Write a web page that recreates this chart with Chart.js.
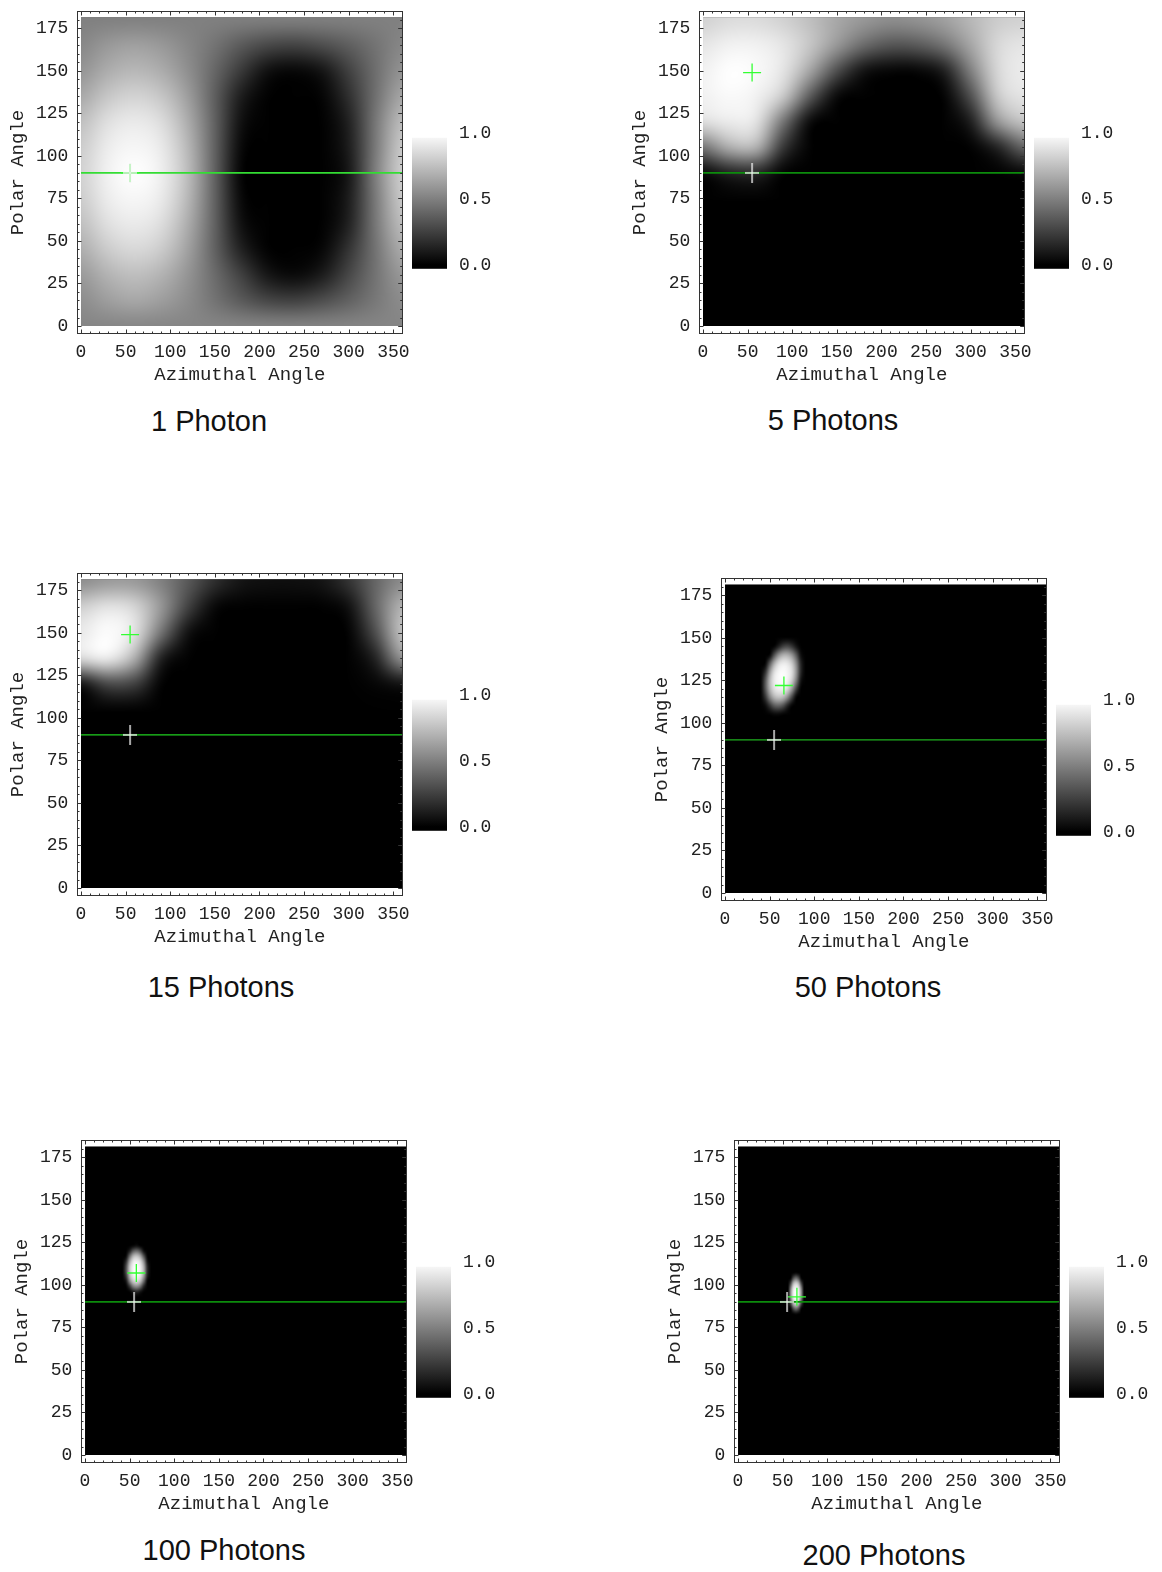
<!DOCTYPE html>
<html>
<head>
<meta charset="utf-8">
<script src="https://cdn.jsdelivr.net/npm/chart.js@4.4.1/dist/chart.umd.min.js"></script>
<style>
  body { margin: 0; background: #fff; width: 1162px; height: 1572px; position: relative; overflow: hidden; }
  canvas { position: absolute; }
  .title { position: absolute; font-family: 'Liberation Sans', Arial, sans-serif; font-size: 29px; color: #111;
           transform: translate(-50%, -50%); white-space: nowrap; }
</style>
</head>
<body>
<script>
// ---- data ----
const panelTitles = ['1 Photon', '5 Photons', '15 Photons', '50 Photons', '100 Photons', '200 Photons'];
const azTickLabels = [0, 50, 100, 150, 200, 250, 300, 350];
const polarTickLabels = [0, 25, 50, 75, 100, 125, 150, 175];
const barTickLabels = [0, 0.5, 1];

// true direction (white cross) and estimate (green cross)
const trueAz = 55;
const truePolar = 90;
const estAz = [55, 55, 55, 66, 57.5, 66];
const estPolar = [90, 149, 149, 122, 107, 93];
const horizonPolar = 90;

// coarse grids, rows go from polar 0 upward
const coarseAz = [0, 30, 60, 90, 120, 150, 180, 210, 240, 270, 300, 330, 360];
const coarsePolar = [0, 15, 30, 45, 60, 75, 90, 105, 120, 135, 150, 165, 180];

const onePhoton = [
  [0.52, 0.52, 0.52, 0.52, 0.52, 0.52, 0.52, 0.52, 0.52, 0.52, 0.52, 0.52, 0.52],
  [0.55, 0.62, 0.66, 0.62, 0.55, 0.45, 0.35, 0.27, 0.25, 0.30, 0.38, 0.47, 0.55],
  [0.60, 0.70, 0.75, 0.70, 0.58, 0.42, 0.25, 0.08, 0.03, 0.10, 0.28, 0.45, 0.60],
  [0.68, 0.80, 0.85, 0.80, 0.63, 0.38, 0.12, 0.00, 0.00, 0.02, 0.20, 0.45, 0.68],
  [0.75, 0.88, 0.92, 0.87, 0.68, 0.38, 0.05, 0.00, 0.00, 0.00, 0.12, 0.47, 0.75],
  [0.80, 0.93, 0.97, 0.92, 0.72, 0.38, 0.02, 0.00, 0.00, 0.00, 0.10, 0.48, 0.80],
  [0.82, 0.95, 1.00, 0.94, 0.74, 0.38, 0.00, 0.00, 0.00, 0.00, 0.08, 0.50, 0.82],
  [0.80, 0.93, 0.97, 0.92, 0.72, 0.38, 0.02, 0.00, 0.00, 0.00, 0.10, 0.48, 0.80],
  [0.75, 0.88, 0.92, 0.87, 0.68, 0.38, 0.05, 0.00, 0.00, 0.00, 0.12, 0.47, 0.75],
  [0.66, 0.78, 0.83, 0.78, 0.62, 0.37, 0.10, 0.00, 0.00, 0.01, 0.18, 0.44, 0.66],
  [0.58, 0.68, 0.72, 0.68, 0.56, 0.40, 0.22, 0.05, 0.02, 0.07, 0.25, 0.43, 0.58],
  [0.53, 0.60, 0.63, 0.60, 0.53, 0.45, 0.35, 0.28, 0.26, 0.30, 0.37, 0.45, 0.53],
  [0.50, 0.50, 0.50, 0.50, 0.50, 0.50, 0.50, 0.50, 0.50, 0.50, 0.50, 0.50, 0.50]
];

const fivePhotons = [
  [0, 0, 0, 0, 0, 0, 0, 0, 0, 0, 0, 0, 0],
  [0, 0, 0, 0, 0, 0, 0, 0, 0, 0, 0, 0, 0],
  [0, 0, 0, 0, 0, 0, 0, 0, 0, 0, 0, 0, 0],
  [0, 0, 0, 0, 0, 0, 0, 0, 0, 0, 0, 0, 0],
  [0, 0, 0, 0, 0, 0, 0, 0, 0, 0, 0, 0, 0],
  [0, 0, 0, 0, 0, 0, 0, 0, 0, 0, 0, 0, 0],
  [0.02, 0.12, 0.15, 0.00, 0, 0, 0, 0, 0, 0, 0.00, 0.00, 0.02],
  [0.45, 0.70, 0.72, 0.20, 0, 0, 0, 0, 0, 0, 0.00, 0.12, 0.40],
  [0.88, 0.93, 0.90, 0.45, 0.02, 0, 0, 0, 0, 0, 0.10, 0.60, 0.78],
  [0.95, 0.98, 0.95, 0.80, 0.35, 0.02, 0, 0, 0, 0, 0.30, 0.80, 0.90],
  [0.95, 1.00, 0.98, 0.90, 0.65, 0.30, 0.06, 0.01, 0.01, 0.10, 0.50, 0.85, 0.93],
  [0.90, 0.95, 0.95, 0.90, 0.78, 0.60, 0.42, 0.33, 0.35, 0.45, 0.65, 0.85, 0.90],
  [0.82, 0.86, 0.86, 0.82, 0.75, 0.66, 0.60, 0.56, 0.58, 0.63, 0.72, 0.80, 0.82]
];

const fifteenPhotons = [
  [0, 0, 0, 0, 0, 0, 0, 0, 0, 0, 0, 0, 0],
  [0, 0, 0, 0, 0, 0, 0, 0, 0, 0, 0, 0, 0],
  [0, 0, 0, 0, 0, 0, 0, 0, 0, 0, 0, 0, 0],
  [0, 0, 0, 0, 0, 0, 0, 0, 0, 0, 0, 0, 0],
  [0, 0, 0, 0, 0, 0, 0, 0, 0, 0, 0, 0, 0],
  [0, 0, 0, 0, 0, 0, 0, 0, 0, 0, 0, 0, 0],
  [0, 0, 0, 0, 0, 0, 0, 0, 0, 0, 0, 0, 0],
  [0, 0, 0, 0, 0, 0, 0, 0, 0, 0, 0, 0, 0],
  [0.05, 0.28, 0.25, 0.00, 0, 0, 0, 0, 0, 0, 0, 0.02, 0.06],
  [0.88, 0.95, 0.70, 0.10, 0, 0, 0, 0, 0, 0, 0, 0.12, 0.60],
  [0.92, 1.00, 0.90, 0.45, 0.05, 0, 0, 0, 0, 0, 0, 0.30, 0.78],
  [0.82, 0.90, 0.85, 0.60, 0.25, 0.02, 0, 0, 0, 0, 0.05, 0.40, 0.72],
  [0.55, 0.60, 0.60, 0.50, 0.35, 0.18, 0.08, 0.06, 0.06, 0.08, 0.20, 0.40, 0.55]
];

// fine grids around the bright spot (everything else is 0)
const fiftyAz = [40, 45, 50, 55, 60, 65, 70, 75, 80, 85, 90];
const fiftyPolar = [100, 105, 110, 115, 120, 125, 130, 135, 140, 145, 150];
const fiftyPhotons = [
  [0, 0, 0, 0, 0, 0, 0, 0, 0, 0, 0],
  [0, 0, 0, 0.02, 0.02, 0, 0, 0, 0, 0, 0],
  [0, 0.03, 0.18, 0.34, 0.38, 0.30, 0.12, 0, 0, 0, 0],
  [0, 0.19, 0.50, 0.70, 0.77, 0.73, 0.55, 0.26, 0, 0, 0],
  [0, 0.32, 0.68, 0.88, 0.94, 0.94, 0.86, 0.61, 0.24, 0, 0],
  [0, 0.32, 0.71, 0.92, 0.98, 0.99, 0.95, 0.81, 0.49, 0.07, 0],
  [0, 0.17, 0.59, 0.87, 0.97, 0.99, 0.96, 0.87, 0.58, 0.15, 0],
  [0, 0, 0.34, 0.68, 0.87, 0.93, 0.91, 0.80, 0.53, 0.14, 0],
  [0, 0, 0, 0.30, 0.56, 0.69, 0.69, 0.58, 0.34, 0.05, 0],
  [0, 0, 0, 0, 0.11, 0.24, 0.28, 0.20, 0.07, 0, 0],
  [0, 0, 0, 0, 0, 0, 0, 0, 0, 0, 0]
];

const hundredAz = [42, 46, 50, 54, 58, 62, 66, 70, 74];
const hundredPolar = [93, 96, 99, 102, 105, 108, 111, 114, 117, 120, 123, 126];
const hundredPhotons = [
  [0, 0, 0, 0, 0, 0, 0, 0, 0],
  [0, 0, 0, 0.10, 0.15, 0.07, 0, 0, 0],
  [0, 0, 0.19, 0.47, 0.55, 0.42, 0.12, 0, 0],
  [0, 0.07, 0.50, 0.78, 0.85, 0.74, 0.39, 0, 0],
  [0, 0.20, 0.70, 0.93, 0.96, 0.90, 0.59, 0.10, 0],
  [0, 0.30, 0.78, 0.97, 1.00, 0.94, 0.69, 0.15, 0],
  [0, 0.28, 0.77, 0.96, 0.99, 0.93, 0.67, 0.14, 0],
  [0, 0.16, 0.64, 0.90, 0.94, 0.86, 0.54, 0.06, 0],
  [0, 0.02, 0.40, 0.70, 0.77, 0.64, 0.30, 0, 0],
  [0, 0, 0.11, 0.35, 0.42, 0.30, 0.04, 0, 0],
  [0, 0, 0, 0.02, 0.05, 0, 0, 0, 0],
  [0, 0, 0, 0, 0, 0, 0, 0, 0]
];

const twoHundredAz = [53, 56, 59, 62, 65, 68, 71, 74, 77];
const twoHundredPolar = [80, 83, 86, 89, 92, 95, 98, 101, 104, 107, 110];
const twoHundredPhotons = [
  [0, 0, 0, 0, 0, 0, 0, 0, 0],
  [0, 0, 0, 0, 0.02, 0, 0, 0, 0],
  [0, 0, 0, 0.29, 0.43, 0.29, 0, 0, 0],
  [0, 0, 0.25, 0.70, 0.83, 0.70, 0.25, 0, 0],
  [0, 0, 0.49, 0.90, 0.97, 0.90, 0.49, 0, 0],
  [0, 0, 0.57, 0.94, 1.00, 0.94, 0.57, 0, 0],
  [0, 0, 0.49, 0.90, 0.97, 0.90, 0.49, 0, 0],
  [0, 0, 0.25, 0.70, 0.83, 0.70, 0.25, 0, 0],
  [0, 0, 0, 0.29, 0.43, 0.29, 0, 0, 0],
  [0, 0, 0, 0, 0.02, 0, 0, 0, 0],
  [0, 0, 0, 0, 0, 0, 0, 0, 0]
];

// ---- layout / style ----
const panels = [
  { grid: { az: coarseAz, polar: coarsePolar, values: onePhoton }, dx: 0, dy: 0, tx: 209, ty: 421, line: '#33dd33', lw: 1.8 },
  { grid: { az: coarseAz, polar: coarsePolar, values: fivePhotons }, dx: 622, dy: 0, tx: 833, ty: 420, line: '#0c8c0c', lw: 1.8 },
  { grid: { az: coarseAz, polar: coarsePolar, values: fifteenPhotons }, dx: 0, dy: 562, tx: 221, ty: 987, line: '#1fd01f', lw: 1.2 },
  { grid: { az: fiftyAz, polar: fiftyPolar, values: fiftyPhotons }, dx: 644, dy: 567, tx: 868, ty: 987, line: '#1fb01f', lw: 1.2 },
  { grid: { az: hundredAz, polar: hundredPolar, values: hundredPhotons }, dx: 4, dy: 1129, tx: 224, ty: 1550, line: '#0c8c0c', lw: 1.8 },
  { grid: { az: twoHundredAz, polar: twoHundredPolar, values: twoHundredPhotons }, dx: 657, dy: 1129, tx: 884, ty: 1555, line: '#0c8c0c', lw: 1.8 }
];

const monoFont = 'Liberation Mono, Courier New, monospace';
const textColor = '#222';
const imageTop = 181.5;

// white cross marker (taller than wide)
const whiteCross = document.createElement('canvas');
whiteCross.width = 14;
whiteCross.height = 20;
(function () {
  const c = whiteCross.getContext('2d');
  c.fillStyle = 'rgba(238,238,238,1)';
  c.fillRect(6.3, 0, 1.4, 20);
  c.fillRect(0, 9.3, 14, 1.4);
})();

// density image drawn under the datasets
const heatmapPlugin = {
  id: 'heatmap',
  beforeDatasetsDraw(chart, args, opts) {
    const { ctx } = chart;
    const x = chart.scales.x, y = chart.scales.y;
    const g = opts.grid;
    const left = x.getPixelForValue(0), right = x.getPixelForValue(360);
    const top = y.getPixelForValue(imageTop), bottom = y.getPixelForValue(0);
    ctx.save();
    ctx.beginPath();
    ctx.rect(left, top, right - left, bottom - top);
    ctx.clip();
    ctx.fillStyle = '#000';
    ctx.fillRect(left, top, right - left, bottom - top);

    const cols = g.az.length, rows = g.polar.length;
    const off = document.createElement('canvas');
    off.width = cols;
    off.height = rows;
    const octx = off.getContext('2d');
    const img = octx.createImageData(cols, rows);
    for (let r = 0; r < rows; r++) {
      for (let c = 0; c < cols; c++) {
        const v = g.values[rows - 1 - r][c];
        const k = Math.round(255 * v);
        const i = 4 * (r * cols + c);
        img.data[i] = k; img.data[i + 1] = k; img.data[i + 2] = k; img.data[i + 3] = 255;
      }
    }
    octx.putImageData(img, 0, 0);
    const dAz = g.az[1] - g.az[0], dPol = g.polar[1] - g.polar[0];
    const x0 = x.getPixelForValue(g.az[0] - dAz / 2);
    const x1 = x.getPixelForValue(g.az[cols - 1] + dAz / 2);
    const y0 = y.getPixelForValue(g.polar[rows - 1] + dPol / 2);
    const y1 = y.getPixelForValue(g.polar[0] - dPol / 2);
    ctx.imageSmoothingEnabled = true;
    ctx.imageSmoothingQuality = 'high';
    ctx.drawImage(off, x0, y0, x1 - x0, y1 - y0);
    ctx.restore();
  }
};

// frame with inward ticks on all four sides
const framePlugin = {
  id: 'frame',
  afterDraw(chart) {
    const { ctx, chartArea: a } = chart;
    const x = chart.scales.x, y = chart.scales.y;
    ctx.save();
    ctx.strokeStyle = '#333';
    ctx.lineWidth = 1;
    ctx.strokeRect(Math.round(a.left) + 0.5, Math.round(a.top) + 0.5,
                   Math.round(a.right) - Math.round(a.left) - 1, Math.round(a.bottom) - Math.round(a.top) - 1);
    ctx.beginPath();
    for (let v = 0; v <= 360; v += 10) {
      const len = v % 50 === 0 ? 4.5 : 2.5;
      const px = Math.round(x.getPixelForValue(v)) + 0.5;
      ctx.moveTo(px, a.bottom); ctx.lineTo(px, a.bottom - len);
      ctx.moveTo(px, a.top); ctx.lineTo(px, a.top + len);
    }
    for (let v = 0; v <= 185; v += 5) {
      const len = v % 25 === 0 ? 4.5 : 2.5;
      const py = Math.round(y.getPixelForValue(v)) + 0.5;
      ctx.moveTo(a.left, py); ctx.lineTo(a.left + len, py);
      ctx.moveTo(a.right, py); ctx.lineTo(a.right - len, py);
    }
    ctx.stroke();
    ctx.restore();
  }
};

// gradient of the legend bar
const colorbarPlugin = {
  id: 'colorbar',
  beforeDatasetsDraw(chart) {
    const { ctx, chartArea: a } = chart;
    const y = chart.scales.y;
    const yb = y.getPixelForValue(-0.03), yt = y.getPixelForValue(0.965);
    const grad = ctx.createLinearGradient(0, y.getPixelForValue(0), 0, y.getPixelForValue(1));
    grad.addColorStop(0, '#000');
    grad.addColorStop(1, '#fff');
    ctx.save();
    ctx.fillStyle = grad;
    ctx.fillRect(a.left, yt, a.right - a.left, yb - yt);
    ctx.restore();
  }
};

function makeCanvas(left, top, w, h) {
  const c = document.createElement('canvas');
  c.width = w;
  c.height = h;
  c.style.left = left + 'px';
  c.style.top = top + 'px';
  c.style.width = w + 'px';
  c.style.height = h + 'px';
  document.body.appendChild(c);
  return c;
}

function noPadding(s) {
  s.paddingTop = 0; s.paddingBottom = 0; s.paddingLeft = 0; s.paddingRight = 0;
}

panels.forEach(function (p, i) {
  // main density plot
  const cv = makeCanvas(p.dx, p.dy, 420, 390);
  new Chart(cv, {
    type: 'scatter',
    data: {
      datasets: [
        { data: [{ x: trueAz, y: truePolar }], pointStyle: whiteCross, pointRadius: 10 },
        { data: [{ x: estAz[i], y: estPolar[i] }], pointStyle: 'cross', pointRadius: 9,
          borderColor: '#33ff33', borderWidth: 1.3 },
        { type: 'line', data: [{ x: 0, y: horizonPolar }, { x: 360, y: horizonPolar }],
          borderColor: p.line, borderWidth: p.lw, pointRadius: 0, fill: false }
      ]
    },
    options: {
      responsive: false,
      animation: false,
      events: [],
      devicePixelRatio: 1,
      layout: { padding: { left: 0, top: 9.3, right: 17.3, bottom: 0 } },
      plugins: {
        legend: { display: false },
        tooltip: { enabled: false },
        heatmap: { grid: p.grid }
      },
      scales: {
        x: {
          type: 'linear', min: -4.5, max: 360.5,
          afterBuildTicks: function (s) { s.ticks = azTickLabels.map(function (v) { return { value: v }; }); },
          afterFit: function (s) { s.height = 56; noPadding(s); },
          grid: { display: false, drawTicks: false },
          border: { display: false },
          ticks: { padding: 7, color: textColor, font: { family: monoFont, size: 18 }, maxRotation: 0, autoSkip: false },
          title: { display: true, text: 'Azimuthal Angle', color: textColor,
                   font: { family: monoFont, size: 19 }, padding: { top: 0, bottom: 3.6 } }
        },
        y: {
          type: 'linear', min: -4.7, max: 185.2,
          afterBuildTicks: function (s) { s.ticks = polarTickLabels.map(function (v) { return { value: v }; }); },
          afterFit: function (s) { s.width = 77; noPadding(s); },
          grid: { display: false, drawTicks: false },
          border: { display: false },
          ticks: { padding: 8.7, color: textColor, font: { family: monoFont, size: 18 }, autoSkip: false },
          title: { display: true, text: 'Polar Angle', color: textColor,
                   font: { family: monoFont, size: 19 }, padding: { top: 6.6, bottom: 0 } }
        }
      }
    },
    plugins: [heatmapPlugin, framePlugin]
  });

  // legend bar
  const cb = makeCanvas(p.dx + 412, p.dy + 120, 100, 158);
  new Chart(cb, {
    type: 'scatter',
    data: { datasets: [{ data: [] }] },
    options: {
      responsive: false,
      animation: false,
      events: [],
      devicePixelRatio: 1,
      layout: { padding: 0 },
      plugins: { legend: { display: false }, tooltip: { enabled: false } },
      scales: {
        x: { display: false, min: 0, max: 1 },
        y: {
          position: 'right', min: -0.1, max: 1.1,
          afterBuildTicks: function (s) { s.ticks = barTickLabels.map(function (v) { return { value: v }; }); },
          afterFit: function (s) { s.width = 65; noPadding(s); },
          grid: { display: false, drawTicks: false },
          border: { display: false },
          ticks: { padding: 12, color: textColor, font: { family: monoFont, size: 18 },
                   callback: function (v) { return Number(v).toFixed(1); } }
        }
      }
    },
    plugins: [colorbarPlugin]
  });

  const t = document.createElement('div');
  t.className = 'title';
  t.style.left = p.tx + 'px';
  t.style.top = p.ty + 'px';
  t.textContent = panelTitles[i];
  document.body.appendChild(t);
});
</script>
</body>
</html>
